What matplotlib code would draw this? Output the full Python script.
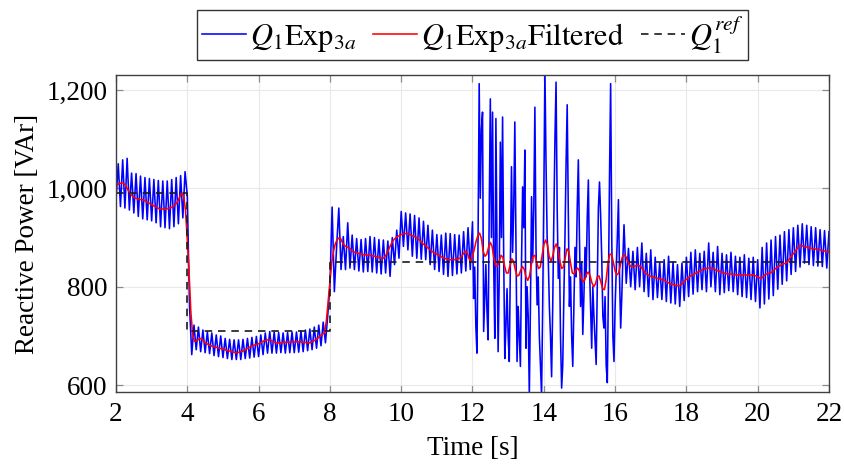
import numpy as np
import matplotlib
matplotlib.use("Agg")
import matplotlib.pyplot as plt
from matplotlib.ticker import FuncFormatter

# ---------------------------------------------------------------------------
# Measured reactive power Q1 (experiment 3a), sampled in three blocks
# ---------------------------------------------------------------------------
# block A: 2.0 s .. 11.9375 s, step 1/16 s
blue_a_start, blue_a_step = 2.0, 1 / 16
blue_a = [
    975, 1050, 963, 1058, 960, 1061, 956, 1031, 950, 1030, 943, 1025, 938, 1022, 936, 1020,
    934, 1018, 930, 1016, 922, 1015, 920, 1015, 918, 1018, 922, 1022, 928, 1026, 940, 1034,
    985, 760, 662, 722, 672, 718, 668, 712, 666, 708, 664, 706, 660, 702, 658, 700,
    656, 695, 654, 693, 652, 692, 652, 692, 652, 693, 654, 695, 655, 697, 657, 699,
    658, 702, 662, 706, 665, 709, 665, 708, 665, 707, 666, 706, 665, 707, 666, 708,
    666, 708, 667, 710, 668, 712, 670, 714, 672, 718, 675, 722, 680, 728, 686, 740,
    800, 962, 790, 880, 960, 835, 902, 835, 930, 838, 905, 835, 898, 832, 896, 830,
    898, 831, 902, 830, 900, 828, 896, 826, 895, 828, 893, 821, 900, 845, 915, 858,
    953, 882, 950, 875, 948, 862, 945, 858, 940, 856, 933, 855, 925, 845, 915, 835,
    906, 831, 905, 825, 909, 821, 908, 823, 906, 826, 905, 828, 912, 832, 920, 835,
]
# block B: 12.0 s .. 16.21875 s, step 1/32 s
blue_b_start, blue_b_step = 12.0, 1 / 32
blue_b = [
    932, 776, 840, 720, 665, 900, 1213, 980, 1120, 1155, 709, 780, 845, 750, 692, 950,
    1182, 900, 1155, 850, 695, 1142, 880, 668, 820, 1094, 900, 1145, 860, 654, 720, 796,
    700, 648, 850, 1044, 870, 960, 1135, 900, 648, 760, 700, 638, 850, 1003, 920, 1078,
    675, 800, 740, 580, 760, 983, 850, 960, 1165, 880, 763, 820, 700, 640, 580, 760,
    980, 1240, 1050, 900, 857, 760, 700, 617, 760, 940, 1100, 1216, 960, 817, 880, 700,
    594, 640, 780, 900, 1050, 1170, 950, 760, 820, 700, 638, 760, 880, 820, 960, 1058,
    900, 760, 850, 703, 780, 880, 820, 940, 1017, 840, 760, 675, 800, 740, 690, 642,
    800, 960, 1013, 946, 860, 740, 716, 780, 640, 605, 800, 1027, 1213, 900, 700, 648,
    760, 830, 900, 977, 820, 716, 780, 860,
]
# block C: 16.25 s .. 22.0 s, step 1/16 s
blue_c_start, blue_c_step = 16.25, 1 / 16
blue_c = [
    926, 807, 878, 800, 872, 794, 880, 800, 889, 790, 868, 780, 875, 774, 860, 778,
    849, 774, 855, 770, 862, 767, 850, 765, 845, 760, 848, 772, 860, 780, 870, 785,
    875, 790, 868, 794, 872, 790, 889, 800, 870, 790, 882, 784, 868, 788, 865, 792,
    870, 790, 862, 784, 860, 780, 865, 778, 858, 774, 860, 770, 855, 757, 880, 765,
    889, 775, 895, 782, 902, 795, 905, 805, 912, 812, 916, 825, 920, 831, 925, 840,
    928, 848, 925, 845, 922, 843, 920, 842, 916, 841, 914, 838, 912,
]

# ---------------------------------------------------------------------------
# Filtered Q1, step 0.05 s from 2.0 s to 22.0 s (one row per second)
# ---------------------------------------------------------------------------
red_start, red_step = 2.0, 0.05
red = [
    1004, 1008, 1010, 1011, 1011, 1008, 1002, 995, 989, 985, 982, 980, 979, 978, 977, 977, 975, 973, 971, 969,
    967, 965, 963, 961, 959, 958, 958, 958, 958, 959, 960, 961, 963, 966, 970, 976, 985, 990, 983, 955,
    895, 828, 748, 703, 689, 690, 692, 695, 694, 690, 686, 684, 682, 680, 679, 678, 677, 676, 675, 674,
    673, 672, 671, 670, 669, 668, 667, 666, 666, 667, 668, 669, 671, 673, 675, 677, 679, 680, 682, 683,
    684, 686, 688, 690, 691, 692, 692, 691, 689, 687, 686, 686, 686, 686, 687, 687, 687, 687, 687, 688,
    688, 688, 688, 688, 688, 687, 687, 686, 686, 686, 688, 690, 692, 695, 698, 701, 704, 706, 730, 770,
    810, 848, 872, 887, 895, 899, 898, 890, 884, 882, 880, 878, 875, 872, 870, 869, 868, 867, 866, 865,
    865, 864, 864, 863, 863, 862, 861, 860, 859, 858, 858, 862, 868, 876, 884, 891, 896, 900, 902, 904,
    906, 907, 908, 908, 908, 906, 904, 903, 901, 899, 896, 892, 888, 885, 882, 879, 876, 873, 870, 868,
    866, 864, 862, 860, 858, 857, 856, 855, 855, 855, 855, 856, 857, 858, 862, 868, 872, 870, 858, 851,
    862, 876, 892, 904, 909, 898, 872, 862, 866, 880, 890, 882, 858, 843, 842, 852, 864, 860, 842, 828,
    828, 842, 857, 852, 835, 822, 823, 833, 841, 836, 820, 813, 822, 845, 862, 864, 850, 837, 840, 862,
    885, 895, 886, 862, 852, 862, 880, 887, 875, 852, 837, 840, 858, 877, 872, 848, 828, 826, 834, 838,
    832, 818, 810, 814, 826, 830, 822, 808, 800, 806, 820, 822, 810, 796, 794, 815, 848, 866, 866, 850,
    832, 824, 828, 845, 860, 865, 862, 852, 845, 841, 841, 842, 843, 843, 842, 838, 833, 828, 825, 823,
    821, 820, 819, 818, 817, 816, 815, 814, 812, 810, 808, 806, 805, 804, 803, 802, 802, 804, 808, 812,
    815, 818, 821, 823, 825, 827, 829, 831, 833, 835, 836, 837, 838, 838, 838, 837, 835, 833, 832, 831,
    829, 828, 827, 826, 826, 826, 825, 825, 824, 824, 824, 824, 824, 824, 824, 824, 824, 824, 823, 822,
    820, 818, 817, 820, 824, 826, 827, 828, 830, 833, 837, 840, 842, 844, 846, 847, 848, 852, 858, 863,
    867, 872, 877, 882, 884, 883, 882, 881, 880, 879, 878, 877, 877, 876, 875, 875, 874, 873, 872, 871,
    870,
]

# Reference set-point: levels between switching instants
ref_edges = [2, 4, 8, 22]
ref_levels = [990, 710, 850]

x_ticks = [2, 4, 6, 8, 10, 12, 14, 16, 18, 20, 22]
y_ticks = [600, 800, 1000, 1200]

# ---------------------------------------------------------------------------
plt.rcParams["font.family"] = ["Liberation Serif", "DejaVu Serif"]
plt.rcParams["mathtext.fontset"] = "stix"
plt.rcParams["font.size"] = 19.5


def block_time(start, step, values):
    return start + step * np.arange(len(values))


t_blue = np.concatenate([
    block_time(blue_a_start, blue_a_step, blue_a),
    block_time(blue_b_start, blue_b_step, blue_b),
    block_time(blue_c_start, blue_c_step, blue_c),
])
q_blue = np.concatenate([blue_a, blue_b, blue_c])
t_red = block_time(red_start, red_step, red)

fig = plt.figure(figsize=(8.44, 4.69), dpi=100)
ax = fig.add_axes([116 / 844, 1 - 392 / 469, 713 / 844, 317 / 469])

ax.plot(t_blue, q_blue, color="#0000ff", lw=1.15, label=r"$Q_1\mathrm{Exp}_{3a}$")
ax.plot(t_red, red, color="#ff0000", lw=1.15,
        label=r"$Q_1\mathrm{Exp}_{3a}\mathrm{Filtered}$")
ax.plot(ref_edges, ref_levels + [ref_levels[-1]], drawstyle="steps-post",
        color="#1a1a1a", lw=1.2, ls=(0, (4.5, 3.5)), label=r"$Q_1^{ref}$")

ax.set_xlim(2, 22)
ax.set_ylim(586, 1230.5)
ax.set_xticks(x_ticks)
ax.set_yticks(y_ticks)
ax.yaxis.set_major_formatter(FuncFormatter(lambda v, _: f"{int(v):,}"))

ax.grid(True, color="#e9e9e9", lw=0.8)
ax.set_axisbelow(True)
ax.tick_params(direction="in", top=True, right=True, length=5, width=0.9,
               color="#8c8c8c", labelcolor="black")
ax.tick_params(axis="x", pad=7)
ax.tick_params(axis="y", pad=6)
for sp in ax.spines.values():
    sp.set_color("#404040")
    sp.set_linewidth(1.0)

ax.set_xlabel("Time [s]", labelpad=7)
ax.set_ylabel("Reactive Power [VAr]", labelpad=5)

leg = ax.legend(loc="lower center", bbox_to_anchor=(0.5, 1.047), ncol=3,
                frameon=True, fancybox=False, framealpha=1, edgecolor="#333333",
                borderaxespad=0, handlelength=1.45, handletextpad=0.12,
                columnspacing=0.55, borderpad=0.15, fontsize=22)
leg.get_frame().set_linewidth(1.0)

fig.savefig("out.png", dpi=100)
